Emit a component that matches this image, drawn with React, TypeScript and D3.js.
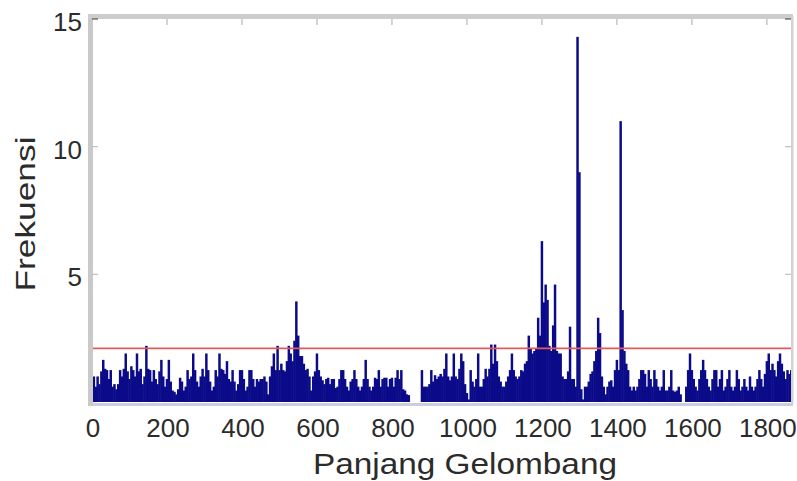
import React from "react";
import * as d3 from "d3";

// Sampling grid of the spectrum (Panjang Gelombang), one value every 5 units
const startWavelength = 0;
const stepWavelength = 5;

// Frekuensi values (0 .. 1865, step 5)
const frequency: number[] = [
  // 0-95
  0.8, 1.0, 0.6, 1.0, 0.7, 1.2, 1.65, 1.3, 1.25, 0.9, 1.25, 0.6, 0.7, 0.5, 0.7, 1.25, 1.0, 1.3, 1.9, 1.2,
  // 100-195
  0.9, 1.4, 1.25, 1.0, 1.9, 1.2, 1.3, 0.7, 1.0, 2.2, 1.3, 1.25, 0.8, 1.25, 0.9, 0.7, 1.2, 1.65, 1.0, 0.6,
  // 200-295
  0.9, 1.65, 0.8, 0.45, 0.4, 0.3, 0.5, 0.95, 0.8, 0.45, 0.6, 1.25, 0.9, 1.0, 1.9, 1.25, 0.8, 0.6, 1.0, 1.3,
  // 300-395
  1.0, 1.9, 1.25, 0.8, 0.45, 0.6, 1.25, 1.0, 1.9, 1.3, 1.25, 1.1, 1.6, 0.9, 0.8, 1.25, 0.8, 0.45, 0.7, 1.25,
  // 400-495
  1.25, 0.9, 0.45, 0.6, 1.25, 1.25, 0.9, 0.6, 0.9, 0.8, 0.9, 0.9, 1.0, 0.8, 0.3, 1.0, 1.4, 1.9, 1.25, 2.2,
  // 500-595
  1.25, 1.5, 1.25, 1.2, 1.6, 2.2, 1.9, 1.6, 2.4, 3.94, 2.6, 1.8, 1.8, 1.5, 1.25, 1.3, 1.0, 0.45, 1.0, 1.2,
  // 600-695
  1.9, 1.25, 1.0, 0.85, 0.7, 0.9, 0.95, 0.7, 0.9, 0.9, 0.55, 0.6, 0.9, 1.25, 1.25, 0.9, 0.6, 0.45, 0.8, 0.9,
  // 700-795
  1.25, 0.9, 0.6, 0.45, 0.6, 0.9, 1.65, 0.9, 0.6, 0.45, 0.6, 0.95, 0.9, 1.25, 0.6, 0.9, 0.95, 0.95, 0.6, 0.9,
  // 800-895
  0.95, 0.6, 0.95, 1.25, 0.9, 1.25, 0.5, 0.45, 0.3, 0.27, 0, 0, 0, 0, 0, 0, 1.25, 0.6, 0.6, 0.6,
  // 900-995
  0.7, 1.25, 0.8, 1.05, 0.9, 1.0, 1.1, 1.0, 1.3, 1.9, 1.0, 0.85, 1.0, 1.9, 1.0, 0.9, 1.3, 1.9, 1.6, 0.7,
  // 1000-1095
  0.35, 0.1, 1.25, 0.8, 0.6, 0.9, 1.9, 0.6, 0.6, 0.9, 1.3, 1.0, 1.3, 2.25, 1.5, 2.25, 1.6, 1.0, 0.8, 0.6,
  // 1100-1195
  0.6, 0.8, 1.0, 1.25, 1.9, 1.25, 1.0, 0.9, 1.0, 1.25, 1.2, 1.5, 1.6, 2.6, 2.1, 1.9, 2.0, 2.1, 3.3, 2.6,
  // 1200-1295
  6.3, 3.9, 4.6, 4.0, 2.2, 2.0, 3.0, 4.6, 2.0, 1.9, 1.9, 1.0, 0.9, 0.9, 1.2, 2.95, 0.9, 0.9, 0.6, 14.3,
  // 1300-1395
  9.0, 0.5, 0.1, 0.6, 0.6, 0.8, 1.1, 1.2, 1.6, 2.0, 3.3, 2.7, 1.0, 0.6, 0.3, 0.6, 0.8, 0.85, 0.6, 1.25,
  // 1400-1495
  1.65, 1.25, 11.0, 3.6, 2.0, 1.5, 1.25, 0.6, 0.45, 0.6, 0.45, 0.6, 0.9, 1.25, 1.25, 1.1, 0.6, 1.25, 0.9, 0.6,
  // 1500-1595
  1.25, 0.9, 0.6, 0.45, 0.6, 1.25, 0.45, 0.45, 0.6, 1.25, 0.45, 0.4, 0.45, 0.6, 0.3, 0, 0, 0.6, 1.25, 1.9,
  // 1600-1695
  1.25, 0.9, 0.6, 0.45, 0.9, 1.25, 1.65, 1.25, 0.9, 0.6, 0.45, 0.9, 1.25, 1.25, 0.6, 0.9, 1.25, 0.45, 0.6, 0.9,
  // 1700-1795
  1.25, 0.6, 0.45, 0.6, 1.25, 0.9, 0.45, 0.6, 0.9, 0.6, 0.45, 1.0, 0.6, 0.45, 0.6, 0.9, 1.25, 0.9, 0.6, 1.1,
  // 1800-1865
  1.6, 1.9, 1.25, 1.5, 1.25, 1.0, 1.6, 1.9, 1.5, 1.2, 0.9, 1.25, 1.1, 1.25,
];

const thresholdValue = 2.1;
const xTicks = [0, 200, 400, 600, 800, 1000, 1200, 1400, 1600, 1800];
const yTicks = [5, 10, 15];
const xDomain = [0, 1867];
const yDomain = [0, 15];
const xLabel = "Panjang Gelombang";
const yLabel = "Frekuensi";

const W = 797;
const H = 481;
const left = 92;
const right = 792;
const top = 19;
const bottom = 402;

export default function App() {
  const x = d3.scaleLinear().domain(xDomain).range([left, right]);
  const y = d3.scaleLinear().domain(yDomain).range([bottom, top]);
  const data = frequency.map((v, i) => ({ w: startWavelength + i * stepWavelength, v }));
  const bw = x(stepWavelength) - x(0);
  const font = "'Liberation Sans', Arial, Helvetica, sans-serif";

  return (
    <svg
      width={W}
      height={H}
      style={{ position: "absolute", left: 0, top: 0, background: "#fff" }}
      fontFamily={font}
    >
      <rect x={0} y={0} width={W} height={H} fill="#ffffff" />
      {/* bars */}
      <g>
        {data.map((d, i) =>
          d.v > 0 ? (
            <rect
              key={i}
              x={x(d.w) - bw / 2 - 0.3}
              y={y(d.v)}
              width={bw + 0.6}
              height={y(0) - y(d.v)}
              fill="#0b0b8a"
            />
          ) : null
        )}
      </g>
      {/* bottom axis line */}
      <line x1={left - 3} x2={right + 1} y1={bottom + 2.5} y2={bottom + 2.5} stroke="#cdcde2" strokeWidth={3} />
      {/* threshold line */}
      <line x1={left} x2={right} y1={y(thresholdValue)} y2={y(thresholdValue)} stroke="#e05a5a" strokeWidth={1.6} />
      {/* box borders */}
      <rect x={left - 4} y={top - 5} width={5} height={bottom - top + 9} fill="#c9c9c9" />
      <rect x={left - 4} y={top - 5} width={right - left + 5} height={5} fill="#cdcdcd" />
      <rect x={right - 1} y={top - 3} width={2.5} height={bottom - top + 5} fill="#d2d2d2" />
      {/* top ticks */}
      {xTicks.filter((t) => t > 0).map((t) => (
        <line key={"tt" + t} x1={x(t)} x2={x(t)} y1={top} y2={top + 6} stroke="#b8b8b8" strokeWidth={1.2} />
      ))}
      {/* y ticks left & right */}
      {yTicks.map((t) => (
        <g key={"yt" + t}>
          <line x1={left} x2={left + 6} y1={y(t)} y2={y(t)} stroke={t === 15 ? "#555" : "#c0c0c0"} strokeWidth={1.2} />
          <line x1={right - 7} x2={right - 1} y1={y(t)} y2={y(t)} stroke={t === 15 ? "#555" : "#c0c0c0"} strokeWidth={1.2} />
        </g>
      ))}
      {/* y tick labels */}
      {yTicks.map((t) => (
        <text
          key={"yl" + t}
          x={82}
          y={y(t) + 3}
          textAnchor="end"
          dominantBaseline="central"
          fontSize={26}
          fill="#2b2b2b"
        >
          {t}
        </text>
      ))}
      {/* x tick labels */}
      {xTicks.map((t) => (
        <text key={"xl" + t} x={x(t) + 1} y={437} textAnchor="middle" fontSize={26} fill="#2b2b2b">
          {t}
        </text>
      ))}
      {/* axis titles */}
      <text
        x={465}
        y={474}
        textAnchor="middle"
        fontSize={30}
        fill="#2b2b2b"
        textLength={304}
        lengthAdjust="spacingAndGlyphs"
      >
        {xLabel}
      </text>
      <text
        transform={`translate(35,214) rotate(-90)`}
        textAnchor="middle"
        fontSize={27}
        fill="#2b2b2b"
        textLength={155}
        lengthAdjust="spacingAndGlyphs"
      >
        {yLabel}
      </text>
    </svg>
  );
}
